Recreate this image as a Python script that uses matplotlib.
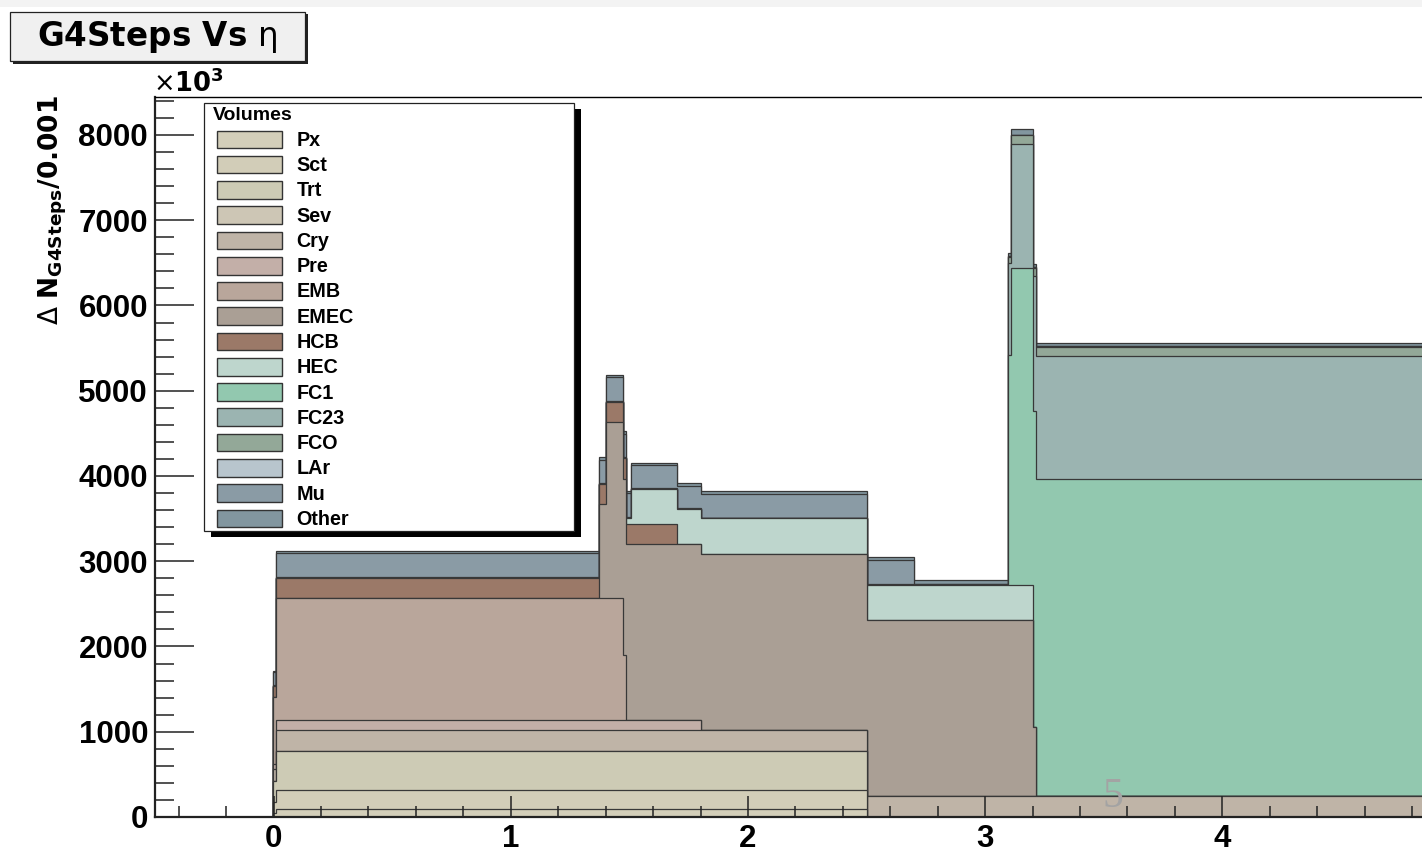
import numpy as np
import matplotlib
matplotlib.use("Agg")
import matplotlib.pyplot as plt
from matplotlib.patches import Rectangle
from matplotlib.ticker import MultipleLocator, FormatStrFormatter

plt.rcParams['font.family'] = ['Liberation Sans', 'DejaVu Sans']
plt.rcParams['mathtext.fontset'] = 'custom'
plt.rcParams['mathtext.rm'] = 'DejaVu Sans:regular'
plt.rcParams['mathtext.bf'] = 'DejaVu Sans:bold'
plt.rcParams['mathtext.it'] = 'DejaVu Sans:italic'

################################################################################
## data (counts in units of 10^3), bin edges in eta
eta_edges = [-0.003, 0.011, 1.37, 1.40, 1.475, 1.485, 1.505, 1.70, 1.80,
             2.50, 2.70, 3.095, 3.11, 3.20, 3.215, 5.0]

volumes = ['Px', 'Sct', 'Trt', 'Sev', 'Cry', 'Pre', 'EMB', 'EMEC', 'HCB',
           'HEC', 'FC1', 'FC23', 'FCO', 'LAr', 'Mu', 'Other']

px    = [50, 90, 90, 90, 90, 90, 90, 90, 90, 0, 0, 0, 0, 0, 0]
sct   = [125, 230, 230, 230, 230, 230, 230, 230, 230, 0, 0, 0, 0, 0, 0]
trt   = [250, 455, 455, 455, 455, 455, 455, 455, 455, 0, 0, 0, 0, 0, 0]
sev   = [0, 0, 0, 0, 0, 0, 0, 0, 0, 0, 0, 0, 0, 0, 0]
cry   = [135, 250, 250, 250, 250, 250, 250, 250, 250, 250, 250, 250, 250, 250, 250]
pre   = [60, 110, 110, 110, 110, 110, 110, 110, 0, 0, 0, 0, 0, 0, 0]
emb   = [790, 1432, 1432, 1432, 770, 0, 0, 0, 0, 0, 0, 0, 0, 0, 0]
emec  = [0, 0, 1100, 2065, 2065, 2065, 2065, 2065, 2065, 2065, 2065, 2065, 2065, 800, 0]
hcb   = [130, 240, 240, 240, 240, 240, 240, 0, 0, 0, 0, 0, 0, 0, 0]
hec   = [0, 0, 0, 0, 0, 70, 412, 412, 412, 412, 412, 412, 412, 0, 0]
fc1   = [0, 0, 0, 0, 0, 0, 0, 0, 0, 0, 0, 2690, 3712, 3712, 3712]
fc23  = [0, 0, 0, 0, 0, 0, 0, 0, 0, 0, 0, 1080, 1460, 1580, 1446]
fco   = [0, 0, 0, 0, 0, 0, 0, 0, 0, 0, 0, 70, 95, 95, 103]
lar   = [5, 10, 10, 10, 10, 10, 10, 10, 10, 10, 10, 10, 10, 10, 10]
mu    = [150, 275, 275, 275, 275, 275, 262, 262, 280, 280, 0, 0, 0, 0, 0]
other = [15, 28, 28, 28, 28, 28, 28, 30, 30, 27, 48, 40, 60, 45, 42]

colors = ['#d3ceb9', '#d2cdb8', '#cdcbb5', '#cdc6b5', '#bfb4a7', '#c3afa8',
          '#b9a69b', '#aa9f95', '#9b7968', '#bed6cd', '#92c8af', '#9bb4b1',
          '#93a898', '#b8c5cd', '#8a9ba5', '#82969f']

layers = [px, sct, trt, sev, cry, pre, emb, emec, hcb, hec, fc1, fc23, fco,
          lar, mu, other]

################################################################################
fig = plt.figure(figsize=(14.22, 8.5), dpi=100)
W, H = 1422., 850.

# axes frame in pixels: x from -0.5 (px 155) to 5.0 (px 1459.5, cropped), y 817..97
ax = fig.add_axes([155/W, (H-817)/H, (1459.5-155)/W, (817-97)/H])

cum = np.cumsum(np.array(layers, dtype=float), axis=0)
for i in range(len(layers)-1, -1, -1):
    ax.stairs(cum[i], eta_edges, baseline=0, fill=True,
              facecolor=colors[i], edgecolor='#383838', linewidth=0.9)

ax.set_xlim(-0.5, 5.0)
ax.set_ylim(0, 8445)

ax.xaxis.set_major_locator(MultipleLocator(1))
ax.xaxis.set_minor_locator(MultipleLocator(0.2))
ax.yaxis.set_major_locator(MultipleLocator(1000))
ax.yaxis.set_minor_locator(MultipleLocator(200))
ax.xaxis.set_major_formatter(FormatStrFormatter('%d'))
ax.yaxis.set_major_formatter(FormatStrFormatter('%d'))

ax.tick_params(axis='both', which='both', direction='in', colors='#222222',
               labelcolor='black', labelsize=22.5, width=1.1)
ax.tick_params(axis='x', which='major', length=15, pad=5)
ax.tick_params(axis='x', which='minor', length=8)
ax.tick_params(axis='y', which='major', length=28, pad=5)
ax.tick_params(axis='y', which='minor', length=14)
for lab in ax.get_xticklabels() + ax.get_yticklabels():
    lab.set_fontweight('bold')

for s in ['left', 'bottom']:
    ax.spines[s].set_linewidth(1.6)
    ax.spines[s].set_color('#222222')
ax.spines['top'].set_linewidth(1.0)
ax.spines['right'].set_visible(False)

################################################################################
## overlay in pixel coordinates for title, legend and labels
ov = fig.add_axes([0, 0, 1, 1], zorder=10)
ov.set_xlim(0, W)
ov.set_ylim(H, 0)
ov.axis('off')
ov.patch.set_alpha(0)

ov.add_patch(Rectangle((0, 0), W, 7, facecolor='#f3f3f3', edgecolor='none'))

# title box
ov.add_patch(Rectangle((12.5, 14), 295, 49.5, facecolor='#222222', edgecolor='none'))
ov.add_patch(Rectangle((10.3, 11.7), 294.7, 49.3, facecolor='#f0f0f0',
                       edgecolor='#222222', linewidth=0.9))
ov.text(157.5, 45.5, r'G4Steps Vs $\mathrm{\eta}$', family='DejaVu Sans',
        fontsize=23.5, fontweight='bold', ha='center', va='baseline')

# exponent and y title
ov.text(153, 92, r'$\mathrm{\times}\mathbf{10^{3}}$', fontsize=18.5, ha='left',
        va='baseline')
ov.text(52.5, 95, r'$\mathrm{\Delta}\ \mathbf{N}_{\mathbf{G4Steps}}\mathbf{/0.001}$',
        fontsize=19, rotation=90, ha='center', va='top')

# legend
ov.add_patch(Rectangle((210.5, 108.7), 370, 428, facecolor='black', edgecolor='none'))
ov.add_patch(Rectangle((204, 102.7), 370, 428, facecolor='white',
                       edgecolor='#222222', linewidth=0.9))
ov.text(212.7, 115.5, 'Volumes', fontsize=14, fontweight='bold', ha='left',
        va='center')
for i, name in enumerate(volumes):
    yc = 139.3 + 25.27*i
    ov.add_patch(Rectangle((217.3, yc-8.8), 65, 17.7, facecolor=colors[i],
                           edgecolor='#333333', linewidth=1.0))
    ov.text(296.7, yc+1, name, fontsize=14.2, fontweight='bold', ha='left',
            va='center')

# stray page number
ov.text(1113, 797, '5', family='Liberation Serif', color='#a3a3a3',
        fontsize=30, ha='center', va='center')

fig.savefig('out.png', dpi=100)
